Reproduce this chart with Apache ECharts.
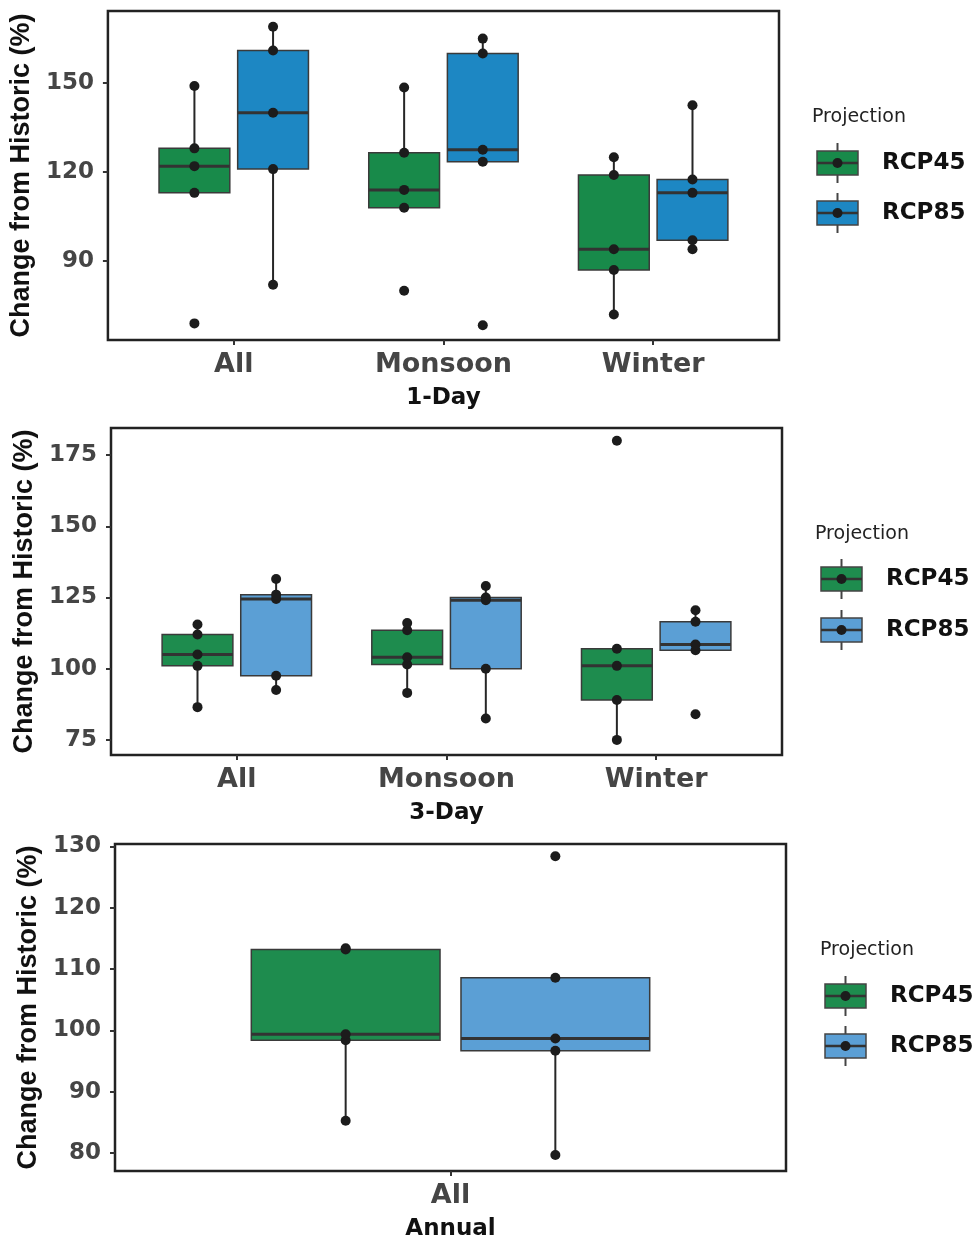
<!DOCTYPE html>
<html><head><meta charset="utf-8">
<script src="https://cdn.jsdelivr.net/npm/echarts@6/dist/echarts.min.js"></script>
<style>html,body{margin:0;padding:0;background:#fff}#c{width:979px;height:1242px}</style>
</head><body><div id="c"></div>
<script>
// ---------- data ----------
const categories1Day = ['All', 'Monsoon', 'Winter'];
const categories3Day = ['All', 'Monsoon', 'Winter'];
const categoriesAnnual = ['All'];
const seriesNames = ['RCP45', 'RCP85'];

// values per category (5 model runs each)
const oneDay_RCP45 = [[69, 113, 122, 128, 149], [80, 108, 114, 126.5, 148.5], [72, 87, 94, 119, 125]];
const oneDay_RCP85 = [[82, 121, 140, 161, 169], [68.4, 123.5, 127.5, 160, 165], [94, 97, 113, 117.5, 142.5]];
const threeDay_RCP45 = [[86.5, 101, 105, 112, 115.5], [91.5, 101.5, 104, 113.5, 116], [75, 89, 101, 107, 180]];
const threeDay_RCP85 = [[92.5, 97.5, 124.5, 126, 131.5], [82.5, 100, 124, 125, 129], [84, 106.5, 108.5, 116.5, 120.5]];
const annual_RCP45 = [[85.3, 98.4, 99.4, 113.2, 113.4]];
const annual_RCP85 = [[79.7, 96.7, 98.7, 108.6, 128.4]];

const yTicks1Day = [90, 120, 150];
const yTicks3Day = [75, 100, 125, 150, 175];
const yTicksAnnual = [80, 90, 100, 110, 120, 130];

// ---------- helpers ----------
const DODGE = 0.1875, BOX_W = 0.3375;
function quant(s, p) { const h = (s.length - 1) * p; const lo = Math.floor(h); const hi = Math.min(lo + 1, s.length - 1); return s[lo] + (h - lo) * (s[hi] - s[lo]); }
function boxStats(vals) {
  const s = [...vals].sort((a, b) => a - b);
  const q1 = quant(s, .25), md = quant(s, .5), q3 = quant(s, .75), iqr = q3 - q1;
  const inn = s.filter(v => v >= q1 - 1.5 * iqr && v <= q3 + 1.5 * iqr);
  return [Math.min(...inn), q1, md, q3, Math.max(...inn)];
}
function renderBox(params, api) {
  const x = api.value(0);
  const lo = api.value(1), q1 = api.value(2), md = api.value(3), q3 = api.value(4), hi = api.value(5);
  const w = api.size([BOX_W, 0])[0];
  const pLo = api.coord([x, lo]), pQ1 = api.coord([x, q1]), pMd = api.coord([x, md]), pQ3 = api.coord([x, q3]), pHi = api.coord([x, hi]);
  const cx = pMd[0];
  const color = api.visual('color');
  return { type: 'group', children: [
    { type: 'line', shape: { x1: cx, y1: pQ3[1], x2: cx, y2: pHi[1] }, style: { stroke: '#262626', lineWidth: 2 } },
    { type: 'line', shape: { x1: cx, y1: pQ1[1], x2: cx, y2: pLo[1] }, style: { stroke: '#262626', lineWidth: 2 } },
    { type: 'rect', shape: { x: cx - w / 2, y: pQ3[1], width: w, height: pQ1[1] - pQ3[1] }, style: { fill: color, stroke: '#3a3a3a', lineWidth: 1.5 } },
    { type: 'line', shape: { x1: cx - w / 2, y1: pMd[1], x2: cx + w / 2, y2: pMd[1] }, style: { stroke: '#333', lineWidth: 3 } }
  ] };
}

const panels = [
  { cats: categories1Day, data: [oneDay_RCP45, oneDay_RCP85], ticks: yTicks1Day, name: '1-Day',
    grid: { left: 107, top: 11, width: 672, height: 329 }, ymin: 63.4, ymax: 174.3, nameGapY: 66,
    colors: ['#188a4a', '#1d87c3'], legend: { x: 812, title: 117, keyX: 817, keys: [163, 213], textX: 882 } },
  { cats: categories3Day, data: [threeDay_RCP45, threeDay_RCP85], ticks: yTicks3Day, name: '3-Day',
    grid: { left: 111, top: 428, width: 671, height: 327 }, ymin: 69.7, ymax: 184.5, nameGapY: 65,
    colors: ['#1e8c4e', '#5b9fd5'], legend: { x: 815, title: 534, keyX: 821, keys: [579, 630], textX: 886 } },
  { cats: categoriesAnnual, data: [annual_RCP45, annual_RCP85], ticks: yTicksAnnual, name: 'Annual',
    grid: { left: 115, top: 844, width: 671, height: 328 }, ymin: 77.1, ymax: 130.4, nameGapY: 68,
    colors: ['#1e8c4e', '#5b9fd5'], legend: { x: 820, title: 950, keyX: 825, keys: [996, 1046], textX: 890 } }
];

const grids = [], xAxes = [], yAxes = [], series = [], graphics = [];
panels.forEach((p, pi) => {
  grids.push(Object.assign({ show: true, borderColor: '#222', borderWidth: 2.5, backgroundColor: 'transparent' }, p.grid));
  const xVals = p.cats.map((c, i) => i + 1);
  xAxes.push({
    gridIndex: pi, type: 'value', min: 0.4, max: p.cats.length + 0.6,
    axisLine: { show: false }, splitLine: { show: false },
    axisTick: { show: true, customValues: xVals, length: 5, lineStyle: { color: '#333', width: 2 } },
    axisLabel: { customValues: xVals, formatter: v => p.cats[Math.round(v) - 1] || '', margin: 11,
      fontFamily: 'DejaVu Sans', fontWeight: 'bold', fontSize: 27, color: '#454545' },
    name: p.name, nameLocation: 'middle', nameGap: 47,
    nameTextStyle: { fontFamily: 'DejaVu Sans', fontWeight: 'bold', fontSize: 23, color: '#111' }
  });
  yAxes.push({
    gridIndex: pi, type: 'value', min: p.ymin, max: p.ymax,
    axisLine: { show: false }, splitLine: { show: false },
    axisTick: { show: true, customValues: p.ticks, length: 5, lineStyle: { color: '#333', width: 2 } },
    axisLabel: { customValues: p.ticks, margin: 14, fontFamily: 'DejaVu Sans', fontWeight: 'bold', fontSize: 23, color: '#454545' },
    name: 'Change from Historic (%)', nameLocation: 'middle', nameGap: p.nameGapY,
    nameTextStyle: { fontFamily: 'Liberation Sans', fontWeight: 'bold', fontSize: 27, color: '#111' }
  });
  p.data.forEach((groups, si) => {
    const off = si === 0 ? -DODGE : DODGE;
    series.push({
      type: 'custom', name: seriesNames[si], xAxisIndex: pi, yAxisIndex: pi,
      itemStyle: { color: p.colors[si] }, renderItem: renderBox,
      encode: { x: 0, y: [1, 2, 3, 4, 5] },
      data: groups.map((vals, ci) => [ci + 1 + off].concat(boxStats(vals))), z: 2
    });
    const pts = [];
    groups.forEach((vals, ci) => vals.forEach(v => pts.push([ci + 1 + off, v])));
    series.push({
      type: 'scatter', xAxisIndex: pi, yAxisIndex: pi, data: pts, symbolSize: 10,
      itemStyle: { color: '#1c1c1c', opacity: 1 }, z: 3, silent: true
    });
  });
  // legend (ggplot style keys)
  const L = p.legend;
  graphics.push({ type: 'text', x: L.x, y: L.title, style: { text: 'Projection', fontFamily: 'DejaVu Sans', fontSize: 19, fill: '#222', align: 'left', verticalAlign: 'middle' } });
  L.keys.forEach((cy, k) => {
    const kx = L.keyX, kw = 41, kh = 24, mx = kx + kw / 2;
    graphics.push({ type: 'line', shape: { x1: mx, y1: cy - 20, x2: mx, y2: cy + 20 }, style: { stroke: '#444', lineWidth: 2 } });
    graphics.push({ type: 'rect', shape: { x: kx, y: cy - kh / 2, width: kw, height: kh }, style: { fill: p.colors[k], stroke: '#444', lineWidth: 1.5 } });
    graphics.push({ type: 'line', shape: { x1: kx, y1: cy, x2: kx + kw, y2: cy }, style: { stroke: '#333', lineWidth: 2.5 } });
    graphics.push({ type: 'circle', shape: { cx: mx, cy: cy, r: 5 }, style: { fill: '#1c1c1c' } });
    graphics.push({ type: 'text', x: L.textX, y: cy, style: { text: seriesNames[k], fontFamily: 'DejaVu Sans', fontWeight: 'bold', fontSize: 23, fill: '#111', align: 'left', verticalAlign: 'middle' } });
  });
});

const chart = echarts.init(document.getElementById('c'), null, { renderer: 'canvas' });
chart.setOption({
  backgroundColor: '#fff', animation: false,
  grid: grids, xAxis: xAxes, yAxis: yAxes, series: series, graphic: graphics
});
</script></body></html>
